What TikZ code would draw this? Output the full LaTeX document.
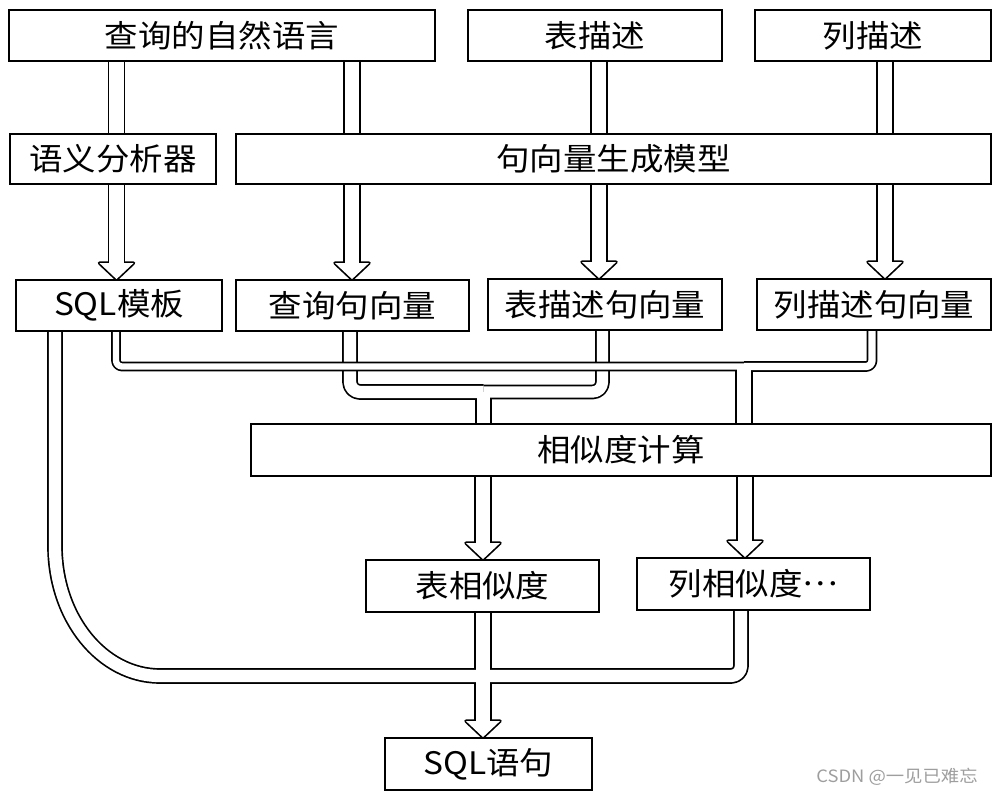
\documentclass[tikz,border=0pt]{standalone}
\usepackage{fontspec}
\newfontfamily\cjk[FakeStretch=1.08]{Noto Sans CJK SC}
\usetikzlibrary{calc}
\pgfdeclarelayer{bg}
\pgfdeclarelayer{Ab}\pgfdeclarelayer{Aw}
\pgfdeclarelayer{Bb}\pgfdeclarelayer{Bw}
\pgfdeclarelayer{Cb}\pgfdeclarelayer{Cw}
\pgfdeclarelayer{Eb}\pgfdeclarelayer{Ew}
\pgfsetlayers{bg,Ab,Aw,Bb,Bw,Cb,Cw,Eb,Ew,main}
\def\plw{1.7pt}
\tikzset{
  box/.style={draw, line width=1.8pt, fill=white, inner sep=0pt,
    font=\cjk\fontsize{31}{31}\selectfont},
  pipeblack/.style={draw=black, line cap=butt, line join=round},
  pipewhite/.style={draw=white, line cap=butt, line join=round},
  mark text/.style={font=\cjk\fontsize{17}{17}\selectfont, text=black!38},
}
\newcommand\drawpipe[3]{%
  \begin{pgfonlayer}{#1b}\draw[pipeblack,line width=#2pt+\plw] #3;\end{pgfonlayer}%
  \begin{pgfonlayer}{#1w}\draw[pipewhite,line width=#2pt-\plw] #3;\end{pgfonlayer}}
\newcommand\drawhead[2]{%
  \begin{pgfonlayer}{#1b}\filldraw[pipeblack,fill=black,line width=2*\plw]
    ($(#2)+(-17,-16)$) -- (#2) -- ($(#2)+(17,-16)$) -- cycle;\end{pgfonlayer}%
  \begin{pgfonlayer}{#1w}\fill[white]
    ($(#2)+(-17,-16)$) -- (#2) -- ($(#2)+(17,-16)$) -- cycle;\end{pgfonlayer}}
\begin{document}
\begin{tikzpicture}[x=1pt,y=-1pt]
\begin{pgfonlayer}{bg}
\fill[white] (0,0) rectangle (1000,800);
\end{pgfonlayer}
\useasboundingbox (0,0) rectangle (1000,800);

% boxes
\node[box, minimum width=426pt, minimum height=51pt] (nl) at (222,35.5) {查询的自然语言};
\node[box, minimum width=254pt, minimum height=51pt] (td) at (595,35.5) {表描述};
\node[box, minimum width=236pt, minimum height=51pt] (cd) at (873,35.5) {列描述};
\node[box, minimum width=206pt, minimum height=50pt] (sa) at (113,159) {语义分析器};
\node[box, minimum width=755pt, minimum height=50pt] (sv) at (613.5,159) {句向量生成模型};
\node[box, minimum width=206pt, minimum height=51pt] (st) at (119,305.5) {SQL模板};
\node[box, minimum width=233pt, minimum height=51pt] (qv) at (352.5,305.5) {查询句向量};
\node[box, minimum width=234pt, minimum height=51pt] (tv) at (605,304.5) {表描述句向量};
\node[box, minimum width=234pt, minimum height=51pt] (cv) at (874,304.5) {列描述句向量};
\node[box, minimum width=740pt, minimum height=52pt] (sc) at (621,450) {相似度计算};
\node[box, minimum width=233pt, minimum height=52pt] (ts) at (482.5,586) {表相似度};
\node[box, minimum width=233pt, minimum height=52pt] (cs) at (753.5,584) {列相似度\raisebox{0.33em}{…}};
\node[box, minimum width=207pt, minimum height=52pt] (sq) at (488.5,764) {SQL语句};
\node[mark text] (wm) at (897,777) {CSDN @一见已难忘};

% arrow tips
\coordinate (h1) at (116.5,0 |- st.north);
\coordinate (h2) at (352,0 |- qv.north);
\coordinate (h3) at (599,0 |- tv.north);
\coordinate (h4) at (885,0 |- cv.north);
\coordinate (h5) at (483,0 |- ts.north);
\coordinate (h6) at (745,0 |- cs.north);
\coordinate (h7) at (483,0 |- sq.north);
% junctions
\coordinate (jB) at (483.5,392);
\coordinate (jC) at (744,366.5);
\coordinate (jE) at (483,676);

% straight pipes
\drawpipe{A}{16}{(116.5,0 |- nl.south) -- (116.5,0 |- sa.north)}
\drawpipe{A}{16}{(116.5,0 |- sa.south) -- ($(h1)+(0,-13)$)}
\drawhead{A}{h1}
\drawpipe{A}{16}{(352,0 |- nl.south) -- (352,0 |- sv.north)}
\drawpipe{A}{16}{(352,0 |- sv.south) -- ($(h2)+(0,-13)$)}
\drawhead{A}{h2}
\drawpipe{A}{16}{(599,0 |- td.south) -- (599,0 |- sv.north)}
\drawpipe{A}{16}{(599,0 |- sv.south) -- ($(h3)+(0,-13)$)}
\drawhead{A}{h3}
\drawpipe{A}{16}{(885,0 |- cd.south) -- (885,0 |- sv.north)}
\drawpipe{A}{16}{(885,0 |- sv.south) -- ($(h4)+(0,-13)$)}
\drawhead{A}{h4}
\drawpipe{A}{16}{(483,0 |- sc.south) -- ($(h5)+(0,-13)$)}
\drawhead{A}{h5}
\drawpipe{A}{16}{(745,0 |- sc.south) -- ($(h6)+(0,-13)$)}
\drawhead{A}{h6}

% merge: query + table vectors
\drawpipe{B}{14}{(350,0 |- qv.south) [rounded corners=10pt] -- (350,0 |- jB) -- (jB)}
\drawpipe{B}{13}{(602.5,0 |- tv.south) [rounded corners=10pt] -- (602.5,0 |- jB) -- (jB)}
\drawpipe{B}{15}{(jB) -- (483.5,0 |- sc.north)}

% merge: SQL template + column vectors
\drawpipe{C}{8}{(116,0 |- st.south) [rounded corners=6pt] -- (116,0 |- jC) -- (jC)}
\drawpipe{C}{9}{(872,0 |- cv.south) [rounded corners=6pt] -- (872,0 |- jC) -- (jC)}
\drawpipe{C}{16}{(jC) -- (744,0 |- sc.north)}

% merge into SQL statement
\drawpipe{E}{14}{(55,0 |- st.south) -- (55,546) .. controls (55,618) and (102,676) .. (160,676) -- (jE)}
\drawpipe{E}{14}{(741,0 |- cs.south) [rounded corners=10pt] -- (741,0 |- jE) -- (jE)}
\drawpipe{E}{16}{(483,0 |- ts.south) -- ($(h7)+(0,-13)$)}
\drawhead{E}{h7}
\end{tikzpicture}
\end{document}
